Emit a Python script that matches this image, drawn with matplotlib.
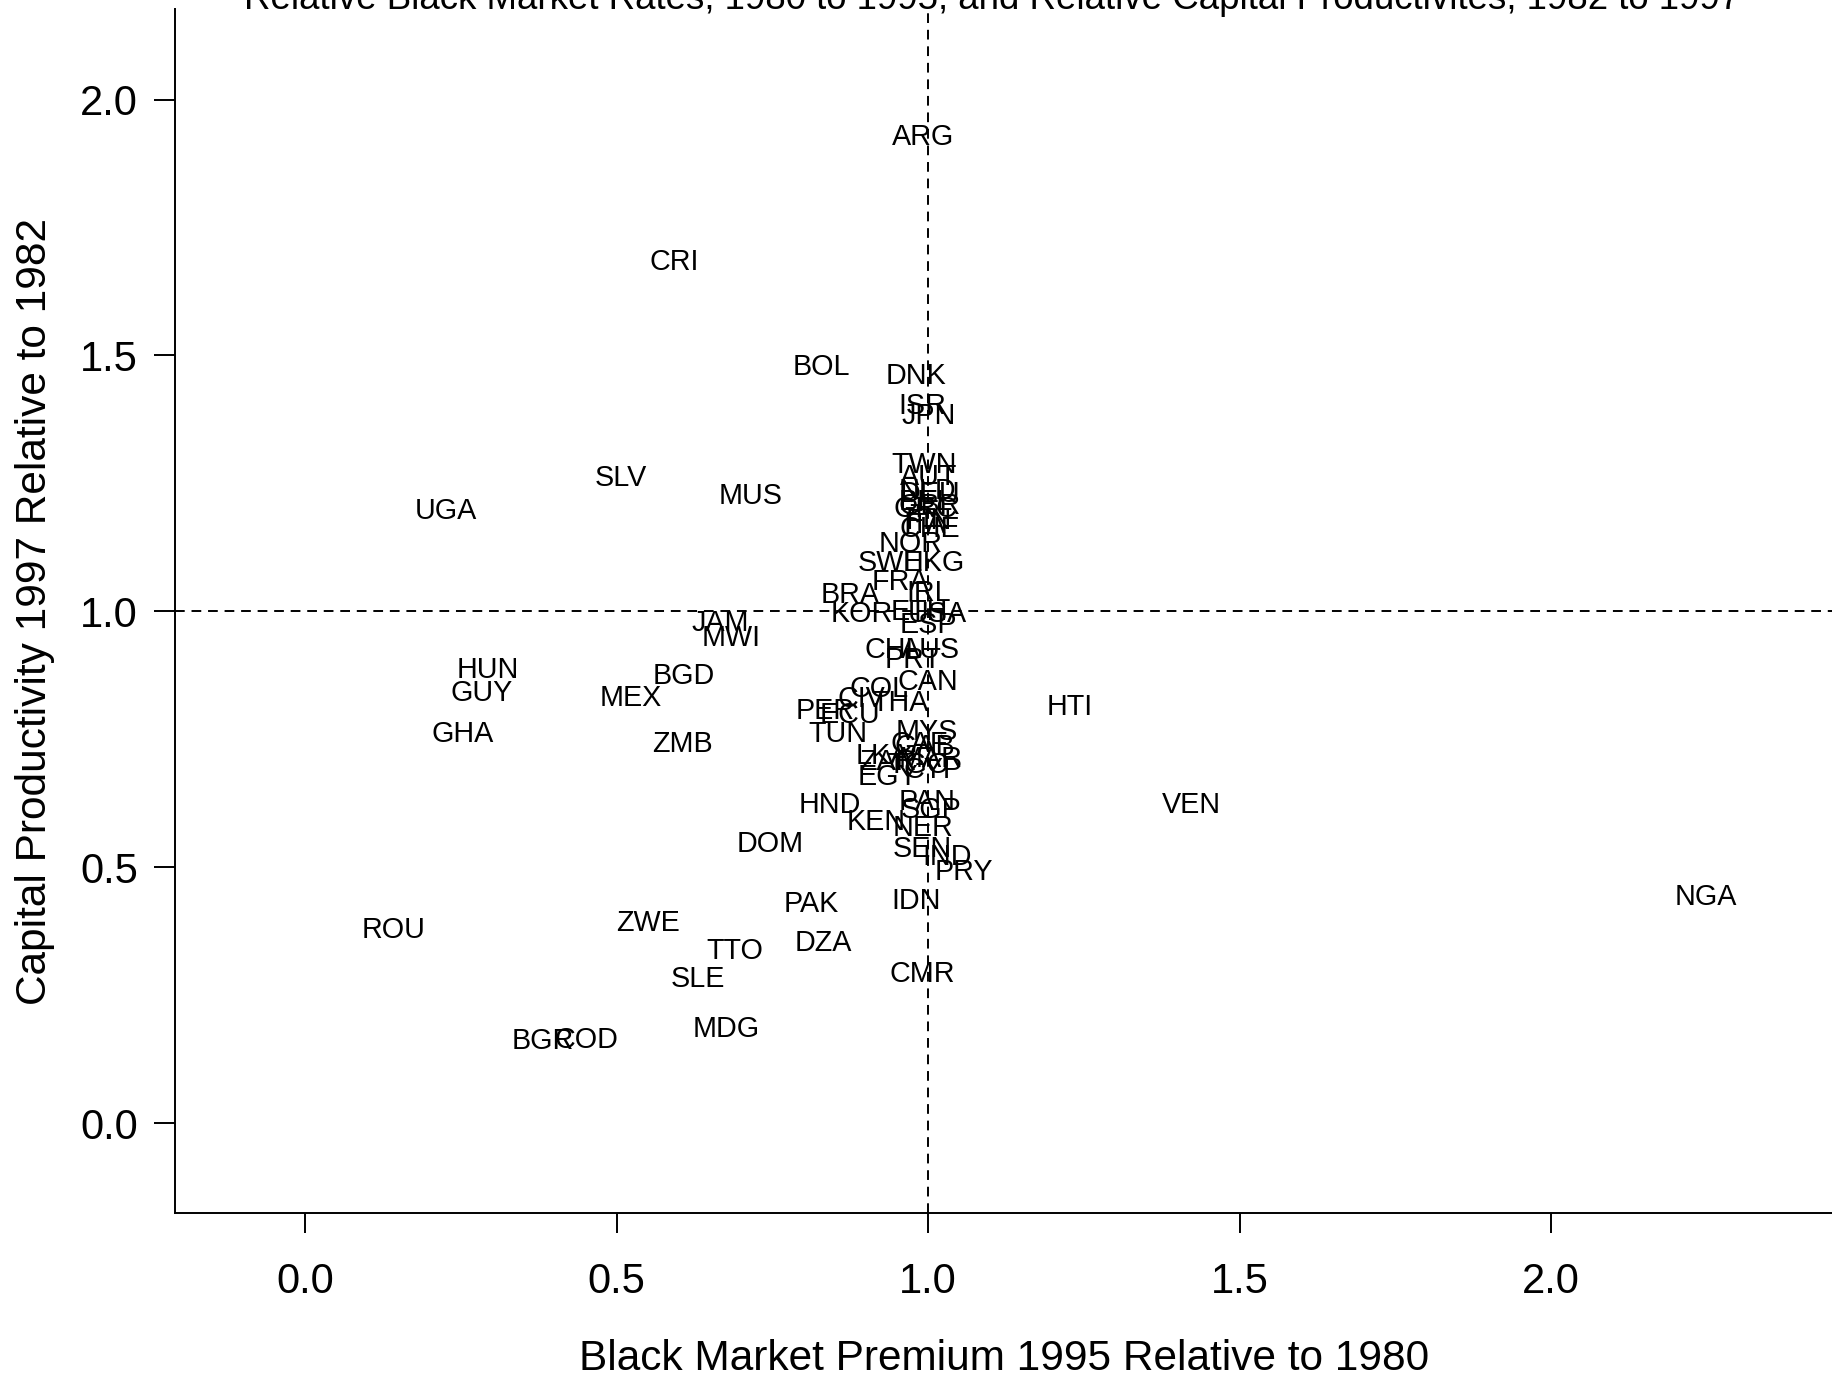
import matplotlib
matplotlib.use('Agg')
import matplotlib.pyplot as plt

plt.rcParams['font.family'] = ['Liberation Sans', 'DejaVu Sans']

# country codes with (black market premium ratio, capital productivity ratio)
codes = ['ARG', 'CRI', 'BOL', 'DNK', 'ISR', 'JPN', 'SLV', 'MUS', 'UGA', 'TWN',
         'AUT', 'NLD', 'DEU', 'BEL', 'GBR', 'GRC', 'FIN', 'ITA', 'CHE', 'NOR',
         'SWE', 'HKG', 'FRA', 'IRL', 'BRA', 'KOR', 'ETH', 'USA', 'ESP', 'CHL',
         'AUS', 'PRT', 'CAN', 'COL', 'CIV', 'THA', 'PER', 'ECU', 'TUN', 'MYS',
         'CAF', 'GAB', 'LKA', 'ZAR', 'MAR', 'TGO', 'CYP', 'EGY', 'HND', 'PAN',
         'SGP', 'KEN', 'NER', 'SEN', 'IND', 'PRY', 'IDN', 'PAK', 'DZA', 'CMR',
         'DOM', 'HTI', 'VEN', 'NGA', 'JAM', 'MWI', 'HUN', 'BGD', 'GUY', 'MEX',
         'GHA', 'ZMB', 'ROU', 'ZWE', 'TTO', 'SLE', 'MDG', 'BGR', 'COD']
bm_ratio = [0.991, 0.593, 0.829, 0.981, 0.991, 1.000, 0.507, 0.715, 0.225, 0.993,
            1.000, 0.998, 1.003, 0.996, 1.002, 0.995, 1.001, 0.994, 1.003, 0.972,
            0.940, 1.009, 0.955, 1.000, 0.874, 0.894, 0.985, 1.015, 1.000, 0.944,
            1.004, 0.975, 1.000, 0.921, 0.893, 0.955, 0.835, 0.875, 0.855, 0.998,
            0.985, 0.995, 0.927, 0.935, 1.004, 0.985, 1.007, 0.935, 0.842, 0.999,
            1.004, 0.916, 0.991, 0.991, 1.031, 1.057, 0.981, 0.812, 0.831, 0.991,
            0.747, 1.227, 1.422, 2.248, 0.666, 0.683, 0.293, 0.608, 0.283, 0.522,
            0.253, 0.606, 0.141, 0.550, 0.690, 0.630, 0.675, 0.381, 0.452]
kp_ratio = [1.927, 1.683, 1.477, 1.459, 1.402, 1.381, 1.260, 1.226, 1.196, 1.285,
            1.262, 1.236, 1.230, 1.214, 1.205, 1.200, 1.176, 1.168, 1.160, 1.132,
            1.094, 1.094, 1.057, 1.035, 1.032, 0.995, 0.998, 0.995, 0.973, 0.924,
            0.924, 0.904, 0.862, 0.849, 0.829, 0.820, 0.806, 0.797, 0.761, 0.765,
            0.740, 0.735, 0.718, 0.705, 0.712, 0.700, 0.689, 0.676, 0.621, 0.627,
            0.611, 0.588, 0.577, 0.536, 0.520, 0.490, 0.434, 0.429, 0.352, 0.292,
            0.546, 0.813, 0.621, 0.441, 0.977, 0.947, 0.886, 0.874, 0.840, 0.831,
            0.760, 0.740, 0.377, 0.390, 0.336, 0.281, 0.183, 0.160, 0.162]

x_ticks = [0.0, 0.5, 1.0, 1.5, 2.0]
y_ticks = [0.0, 0.5, 1.0, 1.5, 2.0]

fig = plt.figure(figsize=(18.32, 13.77), dpi=100)
ax = fig.add_axes([0.0957, 0.119, 1.0 - 0.0957, 0.9935 - 0.119])

for c, xv, yv in zip(codes, bm_ratio, kp_ratio):
    ax.text(xv, yv, c, ha='center', va='center', fontsize=20.7, color='black')

ax.axvline(1.0, color='black', lw=1.4, ls=(0, (5, 3.5)))
ax.axhline(1.0, color='black', lw=1.4, ls=(0, (5, 3.5)))

ax.set_xlim(-0.2087, 2.451)
ax.set_ylim(-0.176, 2.177)
ax.set_xticks(x_ticks)
ax.set_yticks(y_ticks)
ax.set_xticklabels(['%.1f' % v for v in x_ticks])
ax.set_yticklabels(['%.1f' % v for v in y_ticks])
ax.tick_params(axis='x', direction='out', length=14.5, width=1.4, labelsize=30, pad=21)
ax.tick_params(axis='y', direction='out', length=15, width=1.4, labelsize=30, pad=12)

for s in ['top', 'right']:
    ax.spines[s].set_visible(False)
for s in ['left', 'bottom']:
    ax.spines[s].set_linewidth(1.4)

ax.set_xlabel('Black Market Premium 1995 Relative to 1980', fontsize=30.5, labelpad=26)
ax.set_ylabel('Capital Productivity 1997 Relative to 1982', fontsize=30.5, labelpad=18)

# title sits partly outside the top of the canvas, as in the original export
fig.text(0.5415, 0.9932,
         'Relative Black Market Rates, 1980 to 1995, and Relative Capital Productivites, 1982 to 1997',
         ha='center', va='baseline', fontsize=26.4)

fig.savefig('out.png', dpi=100)
